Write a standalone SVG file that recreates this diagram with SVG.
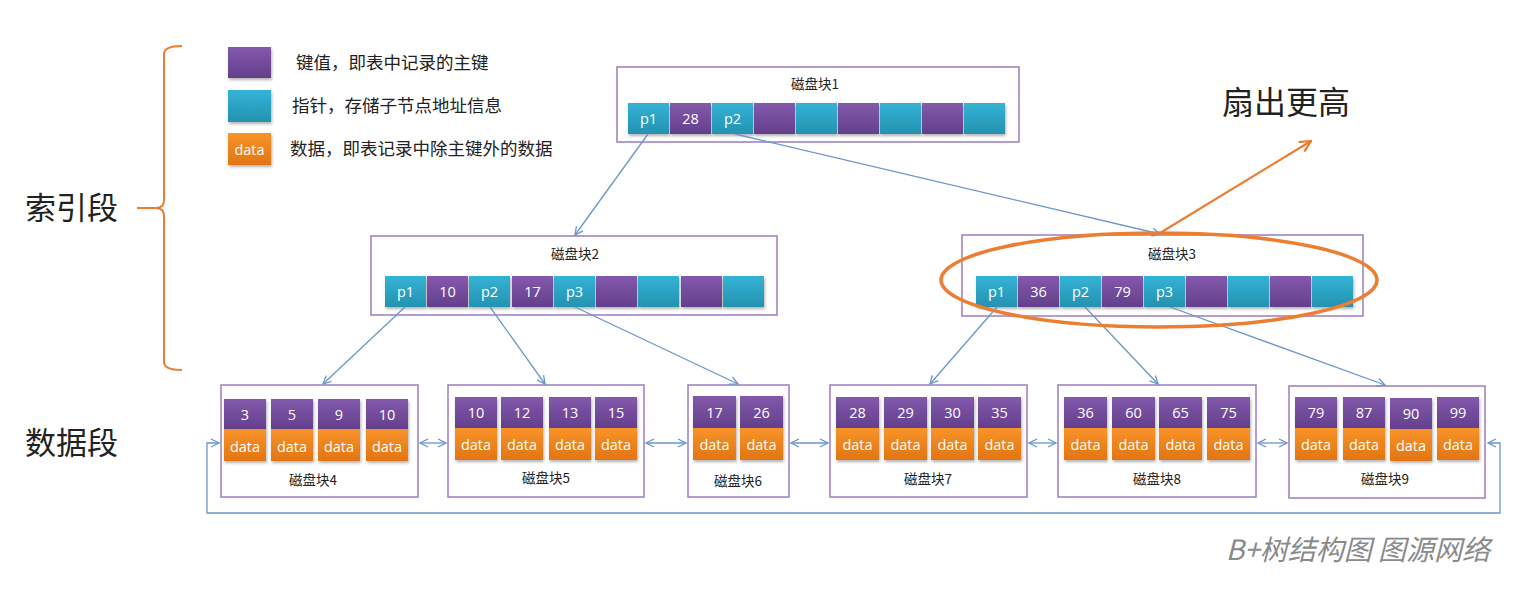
<svg xmlns="http://www.w3.org/2000/svg" width="1534" height="592" viewBox="0 0 1534 592">
<style>
.blk{fill:#fff;stroke:#9B7CBF;stroke-width:1.5}
.pu{fill:url(#gp)}
.cy{fill:url(#gc)}
.or{fill:url(#go)}
.ct{font-family:"Open Sans","Liberation Sans",sans-serif;font-size:14.5px;fill:#fff;text-anchor:middle;dominant-baseline:central}
.ttl{font-family:"Noto Sans CJK SC","Noto Sans",sans-serif;font-size:13.5px;fill:#222;text-anchor:middle}
.lg{font-family:"Noto Sans CJK SC",sans-serif;font-size:17.5px;fill:#222}
.big{font-family:"Noto Sans CJK SC",sans-serif;font-size:31px;fill:#222}
.con{fill:none;stroke:#6A95CE;stroke-width:1.3}
</style>
<defs>
<linearGradient id="gp" x1="0" y1="0" x2="0" y2="1"><stop offset="0" stop-color="#8459AC"/><stop offset="1" stop-color="#633F8B"/></linearGradient>
<linearGradient id="gc" x1="0" y1="0" x2="0" y2="1"><stop offset="0" stop-color="#33B3D6"/><stop offset="1" stop-color="#2592B0"/></linearGradient>
<linearGradient id="go" x1="0" y1="0" x2="0" y2="1"><stop offset="0" stop-color="#F8932A"/><stop offset="1" stop-color="#E27512"/></linearGradient>
<filter id="sh" x="-10%" y="-10%" width="130%" height="140%"><feDropShadow dx="1" dy="2" stdDeviation="1.5" flood-color="#000" flood-opacity="0.3"/></filter>
<marker id="ab" viewBox="0 0 10 10" refX="9" refY="5" markerWidth="10" markerHeight="10" markerUnits="userSpaceOnUse" orient="auto-start-reverse"><path d="M1,1 L9,5 L1,9" fill="none" stroke="#6A95CE" stroke-width="1.3"/></marker>
<marker id="ao" viewBox="0 0 10 10" refX="9" refY="5" markerWidth="14" markerHeight="14" markerUnits="userSpaceOnUse" orient="auto"><path d="M1,1 L9,5 L1,9" fill="none" stroke="#ED7D31" stroke-width="1.6"/></marker>
</defs>
<rect width="1534" height="592" fill="#fff"/>

<g id="legend">
<rect x="228" y="47" width="43" height="31" class="pu" filter="url(#sh)"/>
<text x="296" y="69" class="lg">键值，即表中记录的主键</text>
<rect x="228" y="90" width="43" height="32" class="cy" filter="url(#sh)"/>
<text x="292" y="112" class="lg">指针，存储子节点地址信息</text>
<rect x="228" y="133" width="43" height="32" class="or" filter="url(#sh)"/>
<text x="249.5" y="149" class="ct">data</text>
<text x="290" y="155" class="lg">数据，即表记录中除主键外的数据</text>
</g>

<g id="labels">
<text x="25" y="219" class="big">索引段</text>
<text x="25" y="454" class="big">数据段</text>
<path d="M182,46 Q164,46 164,54 L164,200 Q164,208 156,208 L137,208 M156,208 Q164,208 164,216 L164,362 Q164,370 182,370" fill="none" stroke="#ED7D31" stroke-width="2"/>
<text x="1222" y="114" class="big" style="font-size:32px">扇出更高</text>
<text x="1490" y="560" font-family="Noto Sans CJK SC,sans-serif" font-size="28" font-style="italic" fill="#8A8A8A" text-anchor="end">B+树结构图 图源网络</text>
</g>

<g id="block1">
<rect x="617" y="67" width="402" height="75" class="blk"/>
<text x="815" y="89" class="ttl">磁盘块1</text>
<g filter="url(#sh)">
<rect x="628" y="103" width="41" height="31" class="cy"/>
<rect x="670" y="103" width="41" height="31" class="pu"/>
<rect x="712" y="103" width="41" height="31" class="cy"/>
<rect x="754" y="103" width="41" height="31" class="pu"/>
<rect x="796" y="103" width="41" height="31" class="cy"/>
<rect x="838" y="103" width="41" height="31" class="pu"/>
<rect x="880" y="103" width="41" height="31" class="cy"/>
<rect x="922" y="103" width="41" height="31" class="pu"/>
<rect x="964" y="103" width="41" height="31" class="cy"/>
</g>
<text x="648.5" y="118" class="ct">p1</text>
<text x="690.5" y="118" class="ct">28</text>
<text x="732.5" y="118" class="ct">p2</text>
</g>

<g id="block2">
<rect x="371" y="236" width="406" height="79" class="blk"/>
<text x="575" y="259" class="ttl">磁盘块2</text>
<g filter="url(#sh)">
<rect x="385" y="276" width="41" height="31" class="cy"/>
<rect x="427" y="276" width="41" height="31" class="pu"/>
<rect x="469" y="276" width="41" height="31" class="cy"/>
<rect x="512" y="276" width="41" height="31" class="pu"/>
<rect x="554" y="276" width="41" height="31" class="cy"/>
<rect x="596" y="276" width="41" height="31" class="pu"/>
<rect x="638" y="276" width="41" height="31" class="cy"/>
<rect x="681" y="276" width="41" height="31" class="pu"/>
<rect x="723" y="276" width="41" height="31" class="cy"/>
</g>
<text x="405.5" y="291" class="ct">p1</text>
<text x="447.5" y="291" class="ct">10</text>
<text x="489.5" y="291" class="ct">p2</text>
<text x="532.5" y="291" class="ct">17</text>
<text x="574.5" y="291" class="ct">p3</text>
</g>

<g id="block3">
<rect x="962" y="235" width="401" height="81" class="blk"/>
<text x="1172" y="259" class="ttl">磁盘块3</text>
<g filter="url(#sh)">
<rect x="976" y="276" width="41" height="31" class="cy"/>
<rect x="1018" y="276" width="41" height="31" class="pu"/>
<rect x="1060" y="276" width="41" height="31" class="cy"/>
<rect x="1102" y="276" width="41" height="31" class="pu"/>
<rect x="1144" y="276" width="41" height="31" class="cy"/>
<rect x="1186" y="276" width="41" height="31" class="pu"/>
<rect x="1228" y="276" width="41" height="31" class="cy"/>
<rect x="1270" y="276" width="41" height="31" class="pu"/>
<rect x="1312" y="276" width="41" height="31" class="cy"/>
</g>
<text x="996.5" y="291" class="ct">p1</text>
<text x="1038.5" y="291" class="ct">36</text>
<text x="1080.5" y="291" class="ct">p2</text>
<text x="1122.5" y="291" class="ct">79</text>
<text x="1164.5" y="291" class="ct">p3</text>
</g>

<g id="block4">
<rect x="221" y="385" width="197" height="112" class="blk"/>
<g filter="url(#sh)">
<rect x="224" y="399" width="42" height="30" class="pu"/><rect x="224" y="429" width="42" height="32" class="or"/>
<rect x="271" y="399" width="42" height="30" class="pu"/><rect x="271" y="429" width="42" height="32" class="or"/>
<rect x="318" y="399" width="42" height="30" class="pu"/><rect x="318" y="429" width="42" height="32" class="or"/>
<rect x="366" y="399" width="42" height="30" class="pu"/><rect x="366" y="429" width="42" height="32" class="or"/>
</g>
<text x="245" y="414" class="ct">3</text><text x="245" y="446" class="ct">data</text>
<text x="292" y="414" class="ct">5</text><text x="292" y="446" class="ct">data</text>
<text x="339" y="414" class="ct">9</text><text x="339" y="446" class="ct">data</text>
<text x="387" y="414" class="ct">10</text><text x="387" y="446" class="ct">data</text>
<text x="313" y="485" class="ttl">磁盘块4</text>
</g>

<g id="block5">
<rect x="448" y="385" width="196" height="112" class="blk"/>
<g filter="url(#sh)">
<rect x="455" y="397" width="42" height="31" class="pu"/><rect x="455" y="428" width="42" height="32" class="or"/>
<rect x="501" y="397" width="42" height="31" class="pu"/><rect x="501" y="428" width="42" height="32" class="or"/>
<rect x="549" y="397" width="42" height="31" class="pu"/><rect x="549" y="428" width="42" height="32" class="or"/>
<rect x="595" y="397" width="42" height="31" class="pu"/><rect x="595" y="428" width="42" height="32" class="or"/>
</g>
<text x="476" y="412" class="ct">10</text><text x="476" y="444" class="ct">data</text>
<text x="522" y="412" class="ct">12</text><text x="522" y="444" class="ct">data</text>
<text x="570" y="412" class="ct">13</text><text x="570" y="444" class="ct">data</text>
<text x="616" y="412" class="ct">15</text><text x="616" y="444" class="ct">data</text>
<text x="546" y="483" class="ttl">磁盘块5</text>
</g>

<g id="block6">
<rect x="688" y="385" width="101" height="112" class="blk"/>
<g filter="url(#sh)">
<rect x="693" y="396" width="43" height="32" class="pu"/><rect x="693" y="428" width="43" height="32" class="or"/>
<rect x="740" y="396" width="43" height="32" class="pu"/><rect x="740" y="428" width="43" height="32" class="or"/>
</g>
<text x="714.5" y="412" class="ct">17</text><text x="714.5" y="444" class="ct">data</text>
<text x="761.5" y="412" class="ct">26</text><text x="761.5" y="444" class="ct">data</text>
<text x="738" y="486" class="ttl">磁盘块6</text>
</g>

<g id="block7">
<rect x="830" y="385" width="197" height="112" class="blk"/>
<g filter="url(#sh)">
<rect x="836" y="397" width="43" height="31" class="pu"/><rect x="836" y="428" width="43" height="32" class="or"/>
<rect x="884" y="397" width="43" height="31" class="pu"/><rect x="884" y="428" width="43" height="32" class="or"/>
<rect x="931" y="397" width="43" height="31" class="pu"/><rect x="931" y="428" width="43" height="32" class="or"/>
<rect x="978" y="397" width="43" height="31" class="pu"/><rect x="978" y="428" width="43" height="32" class="or"/>
</g>
<text x="857.5" y="412" class="ct">28</text><text x="857.5" y="444" class="ct">data</text>
<text x="905.5" y="412" class="ct">29</text><text x="905.5" y="444" class="ct">data</text>
<text x="952.5" y="412" class="ct">30</text><text x="952.5" y="444" class="ct">data</text>
<text x="999.5" y="412" class="ct">35</text><text x="999.5" y="444" class="ct">data</text>
<text x="928" y="484" class="ttl">磁盘块7</text>
</g>

<g id="block8">
<rect x="1058" y="385" width="198" height="112" class="blk"/>
<g filter="url(#sh)">
<rect x="1064" y="397" width="43" height="31" class="pu"/><rect x="1064" y="428" width="43" height="32" class="or"/>
<rect x="1112" y="397" width="43" height="31" class="pu"/><rect x="1112" y="428" width="43" height="32" class="or"/>
<rect x="1159" y="397" width="43" height="31" class="pu"/><rect x="1159" y="428" width="43" height="32" class="or"/>
<rect x="1207" y="397" width="43" height="31" class="pu"/><rect x="1207" y="428" width="43" height="32" class="or"/>
</g>
<text x="1085.5" y="412" class="ct">36</text><text x="1085.5" y="444" class="ct">data</text>
<text x="1133.5" y="412" class="ct">60</text><text x="1133.5" y="444" class="ct">data</text>
<text x="1180.5" y="412" class="ct">65</text><text x="1180.5" y="444" class="ct">data</text>
<text x="1228.5" y="412" class="ct">75</text><text x="1228.5" y="444" class="ct">data</text>
<text x="1157" y="484" class="ttl">磁盘块8</text>
</g>

<g id="block9">
<rect x="1289" y="386" width="196" height="112" class="blk"/>
<g filter="url(#sh)">
<rect x="1295" y="397" width="42" height="31" class="pu"/><rect x="1295" y="428" width="42" height="32" class="or"/>
<rect x="1343" y="397" width="42" height="31" class="pu"/><rect x="1343" y="428" width="42" height="32" class="or"/>
<rect x="1390" y="398" width="42" height="31" class="pu"/><rect x="1390" y="429" width="42" height="32" class="or"/>
<rect x="1437" y="397" width="42" height="31" class="pu"/><rect x="1437" y="428" width="42" height="32" class="or"/>
</g>
<text x="1316" y="412" class="ct">79</text><text x="1316" y="444" class="ct">data</text>
<text x="1364" y="412" class="ct">87</text><text x="1364" y="444" class="ct">data</text>
<text x="1411" y="413" class="ct">90</text><text x="1411" y="445" class="ct">data</text>
<text x="1458" y="412" class="ct">99</text><text x="1458" y="444" class="ct">data</text>
<text x="1385" y="484" class="ttl">磁盘块9</text>
</g>

<g id="connectors">
<line x1="648" y1="134" x2="575" y2="235" class="con" marker-end="url(#ab)"/>
<line x1="735" y1="134" x2="1160" y2="234" class="con" marker-end="url(#ab)"/>
<line x1="405" y1="307" x2="323" y2="384" class="con" marker-end="url(#ab)"/>
<line x1="490" y1="307" x2="545" y2="384" class="con" marker-end="url(#ab)"/>
<line x1="575" y1="307" x2="738" y2="384" class="con" marker-end="url(#ab)"/>
<line x1="997" y1="307" x2="930" y2="384" class="con" marker-end="url(#ab)"/>
<line x1="1085" y1="307" x2="1158" y2="384" class="con" marker-end="url(#ab)"/>
<line x1="1170" y1="307" x2="1385" y2="385" class="con" marker-end="url(#ab)"/>
<line x1="420" y1="443" x2="446" y2="443" class="con" marker-start="url(#ab)" marker-end="url(#ab)"/>
<line x1="646" y1="443" x2="686" y2="443" class="con" marker-start="url(#ab)" marker-end="url(#ab)"/>
<line x1="791" y1="443" x2="828" y2="443" class="con" marker-start="url(#ab)" marker-end="url(#ab)"/>
<line x1="1029" y1="443" x2="1056" y2="443" class="con" marker-start="url(#ab)" marker-end="url(#ab)"/>
<line x1="1258" y1="443" x2="1287" y2="443" class="con" marker-start="url(#ab)" marker-end="url(#ab)"/>
<path d="M1488,443 L1500,443 L1500,513 L207,513 L207,443 L219,443" class="con" marker-start="url(#ab)" marker-end="url(#ab)"/>
<ellipse cx="1159" cy="280" rx="218" ry="47" fill="none" stroke="#ED7D31" stroke-width="3.5"/>
<line x1="1160" y1="233" x2="1311" y2="141" stroke="#ED7D31" stroke-width="2.2" marker-end="url(#ao)"/>
</g>
</svg>
